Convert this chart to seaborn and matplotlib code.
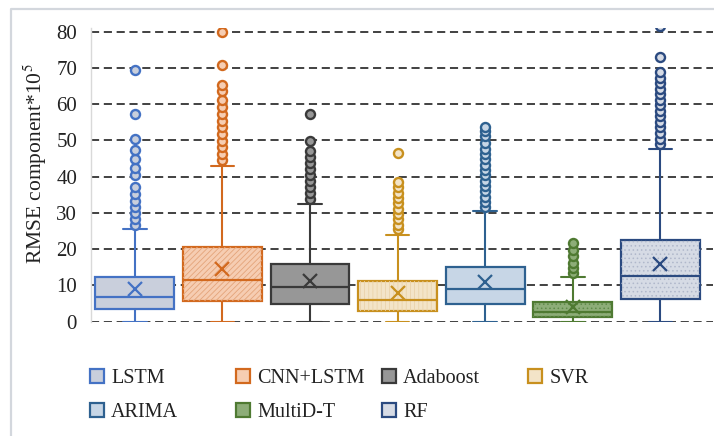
import numpy as np
import matplotlib
matplotlib.use("Agg")
import matplotlib.pyplot as plt
import seaborn as sns
from matplotlib.patches import Patch, PathPatch
from matplotlib.lines import Line2D
from matplotlib.legend_handler import HandlerTuple

# =============================================================================
# DATA
# =============================================================================

MODELS = ["LSTM", "CNN+LSTM", "Adaboost", "SVR", "ARIMA", "MultiD-T", "RF"]

WHISKER_LO = [0.0, 0.0, 0.0, 0.0, 0.0, 0.0, 0.0]
Q1 = [3.6, 5.7, 4.8, 2.9, 4.8, 1.3, 6.2]
MEDIAN = [6.9, 11.5, 9.5, 6.0, 8.9, 2.7, 12.5]
Q3 = [12.4, 20.5, 15.8, 11.3, 15.0, 5.4, 22.5]
MEAN = [8.9, 14.6, 11.2, 8.0, 11.0, 4.0, 16.0]
WHISKER_HI = [25.5, 43.0, 32.5, 23.8, 30.5, 12.3, 47.5]

FLIERS_LSTM = [26.6, 28.2, 29.9, 31.6, 33.4, 35.2, 37.1, 40.4, 42.4, 44.8, 47.4, 50.3, 57.3, 69.4]
FLIERS_CNN_LSTM = [44.6, 46.3, 48.1, 49.9, 51.8, 53.6, 55.4, 57.3, 59.1, 61.2, 63.6, 65.2, 70.9, 79.9]
FLIERS_ADABOOST = [33.9, 35.6, 37.2, 38.9, 40.6, 42.2, 43.9, 45.5, 47.2, 49.8, 57.3]
FLIERS_SVR = [25.5, 26.8, 28.2, 29.7, 31.2, 32.7, 34.1, 35.6, 37.1, 38.5, 46.5]
FLIERS_ARIMA = [31.7, 33.0, 34.5, 36.0, 37.4, 38.9, 40.4, 41.8, 43.3, 44.8, 46.3, 47.7, 49.2, 51.2, 52.5, 53.8]
FLIERS_MULTID_T = [13.3, 14.8, 16.3, 18.0, 19.8, 21.6]
FLIERS_RF = [49.0, 50.5, 52.0, 53.6, 55.1, 56.6, 58.2, 59.7, 61.2, 62.8, 64.3, 65.8, 67.3, 68.9, 73.1, 81.5]

FLIERS = [FLIERS_LSTM, FLIERS_CNN_LSTM, FLIERS_ADABOOST, FLIERS_SVR,
          FLIERS_ARIMA, FLIERS_MULTID_T, FLIERS_RF]

Y_TICKS = [0, 10, 20, 30, 40, 50, 60, 70, 80]

# =============================================================================
# STYLE
# =============================================================================

EDGE_COLORS = ["#4472C4", "#D2691E", "#3A3A3A", "#C8901E", "#2E6190", "#4F7A32", "#2B4A80"]
FACE_COLORS = ["#C9CFDC", "#F6CDB2", "#979797", "#F3E4C8", "#C7D6E6", "#8DAD78", "#D6DBE5"]
HATCHES = [None, "//////", None, "||||", None, "....", "...."]
HATCH_COLORS = [None, "#E4A47A", None, "#EAD3AA", None, "#5F8B4A", "#B0B8CB"]

sns.set_theme(style="white")
plt.rcParams["font.family"] = ["Liberation Serif", "DejaVu Serif"]
plt.rcParams["mathtext.fontset"] = "stix"
plt.rcParams["hatch.linewidth"] = 0.6

fig = plt.figure(figsize=(7.14, 4.36), dpi=100)
ax = fig.add_axes([91 / 714, 1 - 321.7 / 436, (713 - 91) / 714, (321.7 - 28.4) / 436])

stats = []
for i, name in enumerate(MODELS):
    stats.append({
        "label": name,
        "whislo": WHISKER_LO[i],
        "q1": Q1[i],
        "med": MEDIAN[i],
        "q3": Q3[i],
        "whishi": WHISKER_HI[i],
        "mean": MEAN[i],
        "fliers": np.array(FLIERS[i]),
    })

for i, st in enumerate(stats):
    ec, fc = EDGE_COLORS[i], FACE_COLORS[i]
    res = ax.bxp(
        [st], positions=[i], widths=0.9, capwidths=0.27,
        patch_artist=True, showmeans=True, showfliers=True,
        boxprops=dict(facecolor=fc, edgecolor=ec, linewidth=1.6),
        medianprops=dict(color=ec, linewidth=1.6),
        whiskerprops=dict(color=ec, linewidth=1.5),
        capprops=dict(color=ec, linewidth=1.5),
        meanprops=dict(marker="x", markeredgecolor=ec, markersize=10, markeredgewidth=1.6),
        flierprops=dict(marker="o", markerfacecolor=fc, markeredgecolor=ec,
                        markersize=6.5, markeredgewidth=1.7),
        manage_ticks=False,
    )
    if HATCHES[i]:
        box = res["boxes"][0]
        ax.add_patch(PathPatch(box.get_path(), facecolor="none", edgecolor=HATCH_COLORS[i],
                               linewidth=0, hatch=HATCHES[i], zorder=box.get_zorder() + 0.05))

ax.set_xlim(-0.5, 6.6)
ax.set_ylim(0, 80.9)
ax.set_yticks(Y_TICKS)
ax.set_xticks([])
ax.yaxis.grid(True, linestyle=(0, (4.5, 2.6)), color="#333333", linewidth=1.3)
ax.set_axisbelow(True)
ax.tick_params(axis="y", length=0, pad=10, labelsize=15, colors="#222222")
ax.set_ylabel(r"RMSE component*10$^5$", fontsize=15.5, color="#222222")
ax.yaxis.set_label_coords(-42 / 622, 0.54)
for side in ["top", "right", "bottom"]:
    ax.spines[side].set_visible(False)
ax.spines["left"].set_color("#D9D9D9")
ax.spines["left"].set_linewidth(1.0)

# figure frame (light grey)
fig.add_artist(Line2D([10.5 / 714, 10.5 / 714, 1.0], [0.0, 1 - 9 / 436, 1 - 9 / 436],
                      transform=fig.transFigure, color="#D3D7DD", linewidth=1.6))

# legend, laid out in equal-width columns
def make_handle(i):
    base = Patch(facecolor=FACE_COLORS[i], edgecolor=EDGE_COLORS[i], linewidth=1.6)
    if HATCHES[i]:
        hatch = Patch(facecolor="none", edgecolor=HATCH_COLORS[i], linewidth=0, hatch=HATCHES[i])
        return (hatch, base)
    return base

columns = [[0, 4], [1, 5], [2, 6], [3]]
col_x = [90, 236, 382, 528]
for cx, idx in zip(col_x, columns):
    leg = fig.legend(
        [make_handle(i) for i in idx], [MODELS[i] for i in idx],
        loc="upper left", bbox_to_anchor=(cx / 714, 1 - 369 / 436),
        frameon=False, fontsize=14.5, handlelength=0.7, handleheight=0.7,
        handletextpad=0.35, labelspacing=0.75, borderpad=0, borderaxespad=0,
        handler_map={tuple: HandlerTuple(ndivide=1)},
    )
    for t in leg.get_texts():
        t.set_color("#222222")

fig.savefig("out.png", dpi=100)
